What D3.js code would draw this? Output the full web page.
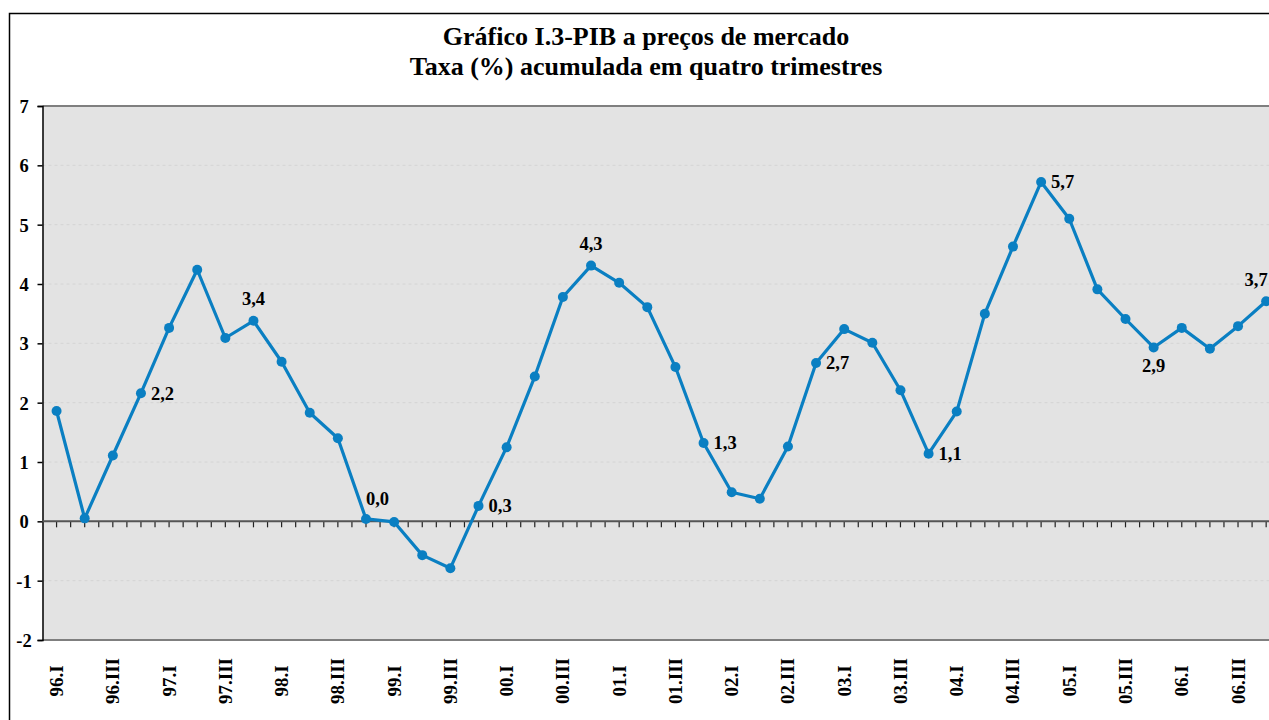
<!DOCTYPE html>
<html>
<head>
<meta charset="utf-8">
<script src="https://cdn.jsdelivr.net/npm/d3@7"></script>
<style>
  body { margin: 0; background: #fff; }
  svg { display: block; }
  text { font-family: "Liberation Serif", "Times New Roman", serif; font-weight: bold; fill: #000; }
</style>
</head>
<body>
<script>
// quarters 96.I .. 06.IV
let years = ["96", "97", "98", "99", "00", "01", "02", "03", "04", "05", "06"];
let quarterNames = ["I", "II", "III", "IV"];
let quarters = [];
years.forEach((y) => quarterNames.forEach((q) => quarters.push(y + "." + q)));

// PIB growth, accumulated over four quarters (%)
let pib = [
  1.86, 0.05, 1.11, 2.16,
  3.26, 4.24, 3.09, 3.38,
  2.69, 1.83, 1.40, 0.04,
  -0.01, -0.57, -0.79, 0.26,
  1.25, 2.44, 3.78, 4.31,
  4.02, 3.61, 2.60, 1.32,
  0.49, 0.38, 1.26, 2.67,
  3.24, 3.01, 2.21, 1.14,
  1.85, 3.50, 4.63, 5.72,
  5.10, 3.91, 3.41, 2.93,
  3.26, 2.91, 3.29, 3.71
];

// which points carry a value label, and where it sits
let labelIndex = [3, 7, 11, 15, 19, 23, 27, 31, 35, 39, 43];
let labelSide = ["right", "top", "topright", "right", "top", "right", "right", "right", "right", "bottom", "top"];

let yTicks = [-2, -1, 0, 1, 2, 3, 4, 5, 6, 7];

let svg = d3.select("body").append("svg")
  .attr("width", 1269)
  .attr("height", 720);

// outer frame of the chart object
svg.append("rect")
  .attr("x", 9.5).attr("y", 13.5)
  .attr("width", 1300).attr("height", 800)
  .attr("fill", "#fff")
  .attr("stroke", "#000")
  .attr("stroke-width", 1.5);

let plotLeft = 42.5, plotTop = 106, plotBottom = 640;
let step = 28.13;
let plotRight = plotLeft + step * quarters.length;

let x = d3.scalePoint()
  .domain(quarters)
  .range([plotLeft, plotRight])
  .padding(0.5);

let y = d3.scaleLinear()
  .domain([-2, 7])
  .range([plotBottom, plotTop]);

// plot area
svg.append("rect")
  .attr("x", plotLeft).attr("y", plotTop)
  .attr("width", plotRight - plotLeft).attr("height", plotBottom - plotTop)
  .attr("fill", "#e3e3e3");

// faint gridlines
svg.append("g")
  .selectAll("line")
  .data(yTicks.filter((d) => d != -2 && d != 7 && d != 0))
  .enter()
  .append("line")
    .attr("x1", plotLeft).attr("x2", plotRight)
    .attr("y1", (d) => y(d)).attr("y2", (d) => y(d))
    .attr("stroke", "#d4d4d4")
    .attr("stroke-width", 1)
    .style("stroke-dasharray", "3,3");

// top and bottom border of plot
svg.append("line")
  .attr("x1", plotLeft).attr("x2", plotRight)
  .attr("y1", plotTop).attr("y2", plotTop)
  .attr("stroke", "#7f7f7f").attr("stroke-width", 2);
svg.append("line")
  .attr("x1", plotLeft).attr("x2", plotRight)
  .attr("y1", plotBottom).attr("y2", plotBottom)
  .attr("stroke", "#7f7f7f").attr("stroke-width", 2);

// y axis
let yAxis = d3.axisLeft(y)
  .tickValues(yTicks)
  .tickSize(5)
  .tickPadding(0)
  .tickFormat((d) => d);

let gy = svg.append("g")
  .attr("transform", "translate(" + plotLeft + ",0)")
  .call(yAxis);
gy.select(".domain").attr("stroke", "#000").attr("stroke-width", 1.5);
gy.selectAll(".tick line").attr("stroke", "#000").attr("stroke-width", 1.5);
gy.selectAll(".tick text")
  .attr("x", 24 - plotLeft)
  .attr("dy", "0.35em")
  .style("text-anchor", "middle")
  .style("font-size", "18.5px")
  .style("font-family", "'Liberation Serif', 'Times New Roman', serif")
  .style("font-weight", "bold");

// zero line with tick marks at category centres and boundaries
let zeroTicks = [];
quarters.forEach((q) => {
  zeroTicks.push(x(q) - step / 2);
  zeroTicks.push(x(q));
});
svg.append("g")
  .selectAll("line")
  .data(zeroTicks.slice(1))
  .enter()
  .append("line")
    .attr("x1", (d) => d).attr("x2", (d) => d)
    .attr("y1", y(0)).attr("y2", y(0) + 6)
    .attr("stroke", "#222").attr("stroke-width", 1.2);
svg.append("line")
  .attr("x1", plotLeft).attr("x2", plotRight)
  .attr("y1", y(0)).attr("y2", y(0))
  .attr("stroke", "#555").attr("stroke-width", 2);

// x labels, every second quarter, rotated
svg.append("g")
  .selectAll("text")
  .data(quarters.filter((d, i) => i % 2 == 0))
  .enter()
  .append("text")
    .attr("transform", (d) => "translate(" + (x(d) + 6.5) + ",681)rotate(-90)")
    .style("text-anchor", "middle")
    .style("font-size", "19px")
    .text((d) => d);

// the series
let line = d3.line()
  .x((d, i) => x(quarters[i]))
  .y((d) => y(d));

svg.append("path")
  .datum(pib)
  .attr("d", line)
  .attr("fill", "none")
  .attr("stroke", "#0a7fc2")
  .attr("stroke-width", 3.2)
  .attr("stroke-linejoin", "round");

svg.append("g")
  .selectAll("circle")
  .data(pib)
  .enter()
  .append("circle")
    .attr("cx", (d, i) => x(quarters[i]))
    .attr("cy", (d) => y(d))
    .attr("r", 5)
    .attr("fill", "#0a7fc2");

// value labels
svg.append("g")
  .selectAll("text")
  .data(labelIndex)
  .enter()
  .append("text")
    .attr("x", (d, k) => {
      let px = x(quarters[d]);
      if (labelSide[k] == "right") return px + 10;
      if (d == quarters.length - 1) return px - 10; // keep last label inside the window
      return px;
    })
    .attr("y", (d, k) => {
      let py = y(pib[d]);
      if (labelSide[k] == "top") return py - 22;
      if (labelSide[k] == "bottom") return py + 18;
      if (labelSide[k] == "topright") return py - 20;
      return py;
    })
    .attr("dy", "0.35em")
    .style("text-anchor", (d, k) => (labelSide[k] == "right" || labelSide[k] == "topright") ? "start" : "middle")
    .style("font-size", "18.5px")
    .text((d) => pib[d].toFixed(1).replace(".", ","));

// title
svg.append("text")
  .attr("x", 646).attr("y", 45)
  .style("text-anchor", "middle")
  .style("font-size", "26px")
  .text("Gráfico I.3-PIB a preços de mercado");
svg.append("text")
  .attr("x", 646).attr("y", 75)
  .style("text-anchor", "middle")
  .style("font-size", "26px")
  .text("Taxa (%) acumulada em quatro trimestres");
</script>
</body>
</html>
